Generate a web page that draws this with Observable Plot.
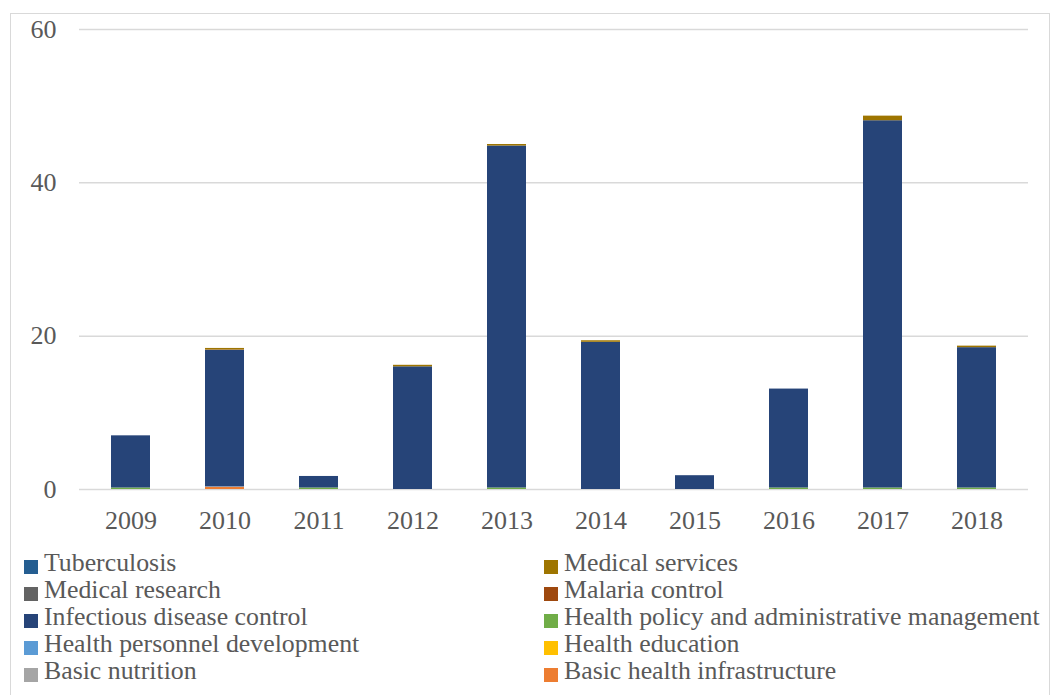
<!DOCTYPE html>
<html>
<head>
<meta charset="utf-8">
<script src="https://cdn.jsdelivr.net/npm/d3@7"></script>
<script src="https://cdn.jsdelivr.net/npm/@observablehq/plot@0.6"></script>
<style>
  html, body { margin: 0; padding: 0; background: #fff; }
  #frame {
    position: absolute; left: 10px; top: 13px; width: 1040px; height: 690px;
    border: 1.5px solid #d9d9d9; box-sizing: border-box; overflow: hidden;
  }
  #legend {
    position: absolute; left: 13px; top: 535px; width: 1030px;
    display: grid; grid-template-columns: 520px 510px; grid-auto-rows: 27px;
    font-family: "Liberation Serif", serif; font-size: 25.8px; line-height: 1; color: #595959;
  }
  .item { display: flex; align-items: center; white-space: nowrap; height: 27px; }
  .sw { width: 14px; height: 14px; margin-right: 6px; flex: none; position: relative; top: 4px; }
</style>
</head>
<body>
<div id="frame"><div id="chart"></div><div id="legend"></div></div>
<script>
const years = ["2009","2010","2011","2012","2013","2014","2015","2016","2017","2018"];
// stacking order bottom → top
const seriesNames = [
  "Basic health infrastructure", "Basic nutrition", "Health education",
  "Health personnel development", "Health policy and administrative management",
  "Infectious disease control", "Malaria control", "Medical research",
  "Medical services", "Tuberculosis"
];
const seriesColors = [
  "#ED7D31", "#A5A5A5", "#FFC000", "#5B9BD5", "#70AD47",
  "#264478", "#9E480E", "#636363", "#9E7500", "#255E91"
];
const basicHealthInfrastructure = [0, 0.3, 0, 0, 0, 0, 0, 0, 0, 0];
const basicNutrition            = [0, 0, 0, 0, 0, 0, 0, 0, 0, 0];
const healthEducation           = [0, 0, 0, 0, 0, 0, 0, 0, 0, 0];
const healthPersonnel           = [0, 0.05, 0, 0, 0, 0, 0, 0, 0, 0];
const healthPolicy              = [0.2, 0, 0.2, 0, 0.2, 0, 0, 0.2, 0.2, 0.2];
const infectiousDisease         = [6.8, 17.8, 1.5, 16.0, 44.6, 19.2, 1.8, 12.9, 47.9, 18.3];
const malariaControl            = [0, 0.05, 0, 0, 0, 0, 0, 0, 0, 0];
const medicalResearch           = [0, 0, 0, 0, 0, 0, 0, 0, 0, 0];
const medicalServices           = [0, 0.2, 0, 0.2, 0.2, 0.2, 0, 0, 0.6, 0.2];
const tuberculosis              = [0, 0, 0, 0, 0, 0, 0, 0, 0, 0];
const seriesValues = [
  basicHealthInfrastructure, basicNutrition, healthEducation, healthPersonnel,
  healthPolicy, infectiousDisease, malariaControl, medicalResearch,
  medicalServices, tuberculosis
];
const yTicks = [0, 20, 40, 60];

const rows = [];
seriesNames.forEach((s, i) => years.forEach((y, j) => rows.push({year: y, series: s, value: seriesValues[i][j]})));

const font = "Liberation Serif, serif";
const chart = Plot.plot({
  width: 1037, height: 532,
  marginLeft: 68, marginRight: 20, marginTop: 15, marginBottom: 57,
  style: {fontFamily: font, fontSize: "26px", color: "#595959", background: "white"},
  x: {domain: years, paddingInner: 0.59, paddingOuter: 0.295, label: null},
  y: {domain: [0, 60], ticks: yTicks, label: null},
  color: {domain: seriesNames, range: seriesColors},
  marks: [
    Plot.gridY(yTicks, {stroke: "#d9d9d9", strokeOpacity: 1, strokeWidth: 1.5}),
    Plot.barY(rows, {x: "year", y: "value", fill: "series", order: seriesNames}),
    Plot.axisY({ticks: yTicks, tickSize: 0, tickPadding: 23, fill: "#595959"}),
    Plot.axisX({tickSize: 0, tickPadding: 21, fill: "#595959"})
  ]
});
document.getElementById("chart").appendChild(chart);

// legend: Excel order (reverse of stacking), row-wise, two columns
const legend = document.getElementById("legend");
const legendOrder = seriesNames.slice().reverse();
legendOrder.forEach(name => {
  const i = seriesNames.indexOf(name);
  const d = document.createElement("div");
  d.className = "item";
  d.innerHTML = `<span class="sw" style="background:${seriesColors[i]}"></span><span>${name}</span>`;
  legend.appendChild(d);
});
</script>
</body>
</html>
